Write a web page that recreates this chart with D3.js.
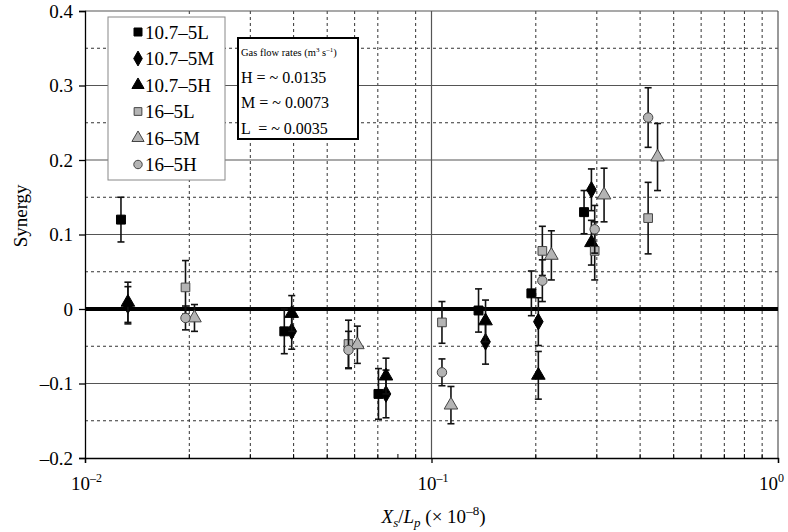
<!DOCTYPE html>
<html>
<head>
<meta charset="utf-8">
<script src="https://cdn.jsdelivr.net/npm/d3@7"></script>
<style>
  body { margin: 0; background: #fff; }
  svg text { font-family: "Liberation Serif", "Times New Roman", serif; }
</style>
</head>
<body>
<div id="chart"></div>
<script>
// series names (legend order)
const seriesNames = ["10.7–5L", "10.7–5M", "10.7–5H", "16–5L", "16–5M", "16–5H"];

// x values (Xs/Lp), y values (synergy), error half-widths
const x107L = [0.0127, 0.0376, 0.0703, 0.1367, 0.1942, 0.2756];
const y107L = [0.12, -0.03, -0.114, -0.002, 0.021, 0.13];
const e107L = [0.03, 0.03, 0.034, 0.029, 0.03, 0.029];

const x107M = [0.0133, 0.0395, 0.0739, 0.1432, 0.2034, 0.2894];
const y107M = [0.005, -0.03, -0.114, -0.044, -0.017, 0.16];
const e107M = [0.025, 0.024, 0.032, 0.03, 0.032, 0.028];

const x107H = [0.0133, 0.0395, 0.0739, 0.1432, 0.2034, 0.2894];
const y107H = [0.009, -0.006, -0.09, -0.016, -0.089, 0.089];
const e107H = [0.027, 0.024, 0.024, 0.028, 0.032, 0.03];

const x16L = [0.0195, 0.0576, 0.1072, 0.2089, 0.2958, 0.4219];
const y16L = [0.029, -0.047, -0.018, 0.078, 0.078, 0.122];
const e16L = [0.036, 0.032, 0.028, 0.033, 0.039, 0.048];

const x16M = [0.0207, 0.0611, 0.1138, 0.2218, 0.3148, 0.4491];
const y16M = [-0.012, -0.048, -0.129, 0.072, 0.153, 0.204];
const e16M = [0.018, 0.025, 0.025, 0.033, 0.036, 0.045];

const x16H = [0.0195, 0.0576, 0.1072, 0.2089, 0.2958, 0.4219];
const y16H = [-0.012, -0.055, -0.085, 0.038, 0.107, 0.257];
const e16H = [0.016, 0.025, 0.018, 0.028, 0.032, 0.04];

// tick labels
const yTicks = [-0.2, -0.1, 0, 0.1, 0.2, 0.3, 0.4];
const yTickLabels = ["–0.2", "–0.1", "0", "0.1", "0.2", "0.3", "0.4"];
const yMinor = [-0.15, -0.05, 0.05, 0.15, 0.25, 0.35];
const xMajor = [0.01, 0.1, 1];
const xMajorExp = ["–2", "–1", "0"];

// gas flow box text
const gasLines = ["H = ~ 0.0135", "M = ~ 0.0073", "L  = ~ 0.0035"];

//size
const width = 788;
const height = 532;
const margin = { top: 11, bottom: 74, left: 85, right: 10 };
const innerWidth = width - margin.left - margin.right;
const innerHeight = height - margin.top - margin.bottom;

const xs = [x107L, x107M, x107H, x16L, x16M, x16H];
const ysAll = [y107L, y107M, y107H, y16L, y16M, y16H];
const es = [e107L, e107M, e107H, e16L, e16M, e16H];
const shapes = [d3.symbolSquare, d3.symbolDiamond, d3.symbolTriangle, d3.symbolSquare, d3.symbolTriangle, d3.symbolCircle];
const sizes = [80, 80, 80, 75, 80, 70];
const fills = ["#000", "#000", "#000", "#b4b4b4", "#b4b4b4", "#b4b4b4"];
const strokes = ["#000", "#000", "#000", "#444", "#444", "#444"];

const series = seriesNames.map((name, i) => ({
  name,
  i,
  points: xs[i].map((x, j) => ({ x, y: ysAll[i][j], e: es[i][j] })),
}));

//scale
const xScale = d3.scaleLog().domain([0.01, 1]).range([0, innerWidth]);
const yScale = d3.scaleLinear().domain([-0.2, 0.4]).range([innerHeight, 0]);

const svg = d3
  .select("#chart")
  .append("svg")
  .attr("width", width)
  .attr("height", height);

const g = svg
  .append("g")
  .attr("transform", `translate(${margin.left},${margin.top})`);

// grid: vertical minor (dashed) -- the reference has no line at 0.08
const xMinor = [];
[0.01, 0.1].forEach((d) => {
  for (let k = 2; k <= 9; k++) xMinor.push(d * k);
});
g.append("g")
  .selectAll("line")
  .data(xMinor.filter((d) => Math.abs(d - 0.08) > 1e-9))
  .join("line")
  .attr("x1", (d) => xScale(d))
  .attr("x2", (d) => xScale(d))
  .attr("y1", 0)
  .attr("y2", innerHeight)
  .attr("stroke", "#333")
  .attr("stroke-width", 1)
  .attr("stroke-dasharray", "3,3");

// horizontal minor (dashed)
g.append("g")
  .selectAll("line")
  .data(yMinor)
  .join("line")
  .attr("x1", 0)
  .attr("x2", innerWidth)
  .attr("y1", (d) => yScale(d))
  .attr("y2", (d) => yScale(d))
  .attr("stroke", "#333")
  .attr("stroke-width", 1)
  .attr("stroke-dasharray", "3,3");

// horizontal major (solid)
g.append("g")
  .selectAll("line")
  .data(yTicks.filter((d) => d !== 0 && d !== -0.2))
  .join("line")
  .attr("x1", 0)
  .attr("x2", innerWidth)
  .attr("y1", (d) => yScale(d))
  .attr("y2", (d) => yScale(d))
  .attr("stroke", "#555")
  .attr("stroke-width", 1.2);

// vertical major (solid) at 0.1 and 1
g.append("g")
  .selectAll("line")
  .data([0.1, 1])
  .join("line")
  .attr("x1", (d) => xScale(d))
  .attr("x2", (d) => xScale(d))
  .attr("y1", 0)
  .attr("y2", innerHeight)
  .attr("stroke", "#555")
  .attr("stroke-width", 1.2);

// y axis
g.append("g")
  .call(
    d3.axisLeft(yScale)
      .tickValues(yTicks)
      .tickSize(6)
      .tickPadding(6)
      .tickFormat((d, i) => yTickLabels[i])
  )
  .call((a) => {
    a.attr("font-family", null).attr("font-size", null);
    a.select(".domain").attr("stroke", "#000").attr("stroke-width", 1.3);
    a.selectAll("line").attr("stroke", "#000").attr("stroke-width", 1.3);
    a.selectAll("text")
      .attr("font-size", 19)
      .attr("fill", "#000");
  });

// x axis
g.append("g")
  .attr("transform", `translate(0,${innerHeight})`)
  .call(d3.axisBottom(xScale).tickValues(xMajor).tickSize(5).tickFormat(""))
  .call((a) => {
    a.select(".domain").attr("stroke", "#000").attr("stroke-width", 1.3);
    a.selectAll("line").attr("stroke", "#000").attr("stroke-width", 1.3);
  });

// x minor ticks (inward)
g.append("g")
  .selectAll("line")
  .data(xMinor)
  .join("line")
  .attr("x1", (d) => xScale(d))
  .attr("x2", (d) => xScale(d))
  .attr("y1", innerHeight)
  .attr("y2", innerHeight - 4)
  .attr("stroke", "#000")
  .attr("stroke-width", 1);

// x tick labels 10^n
const xl = g.append("g")
  .selectAll("text")
  .data(xMajor)
  .join("text")
  .attr("x", (d, i) => xScale(d) - (i === 2 ? 19 : 14))
  .attr("y", innerHeight + 32)
  .attr("font-size", 19)
  .attr("fill", "#000");
xl.append("tspan").text("10");
xl.append("tspan")
  .attr("dy", -8)
  .attr("font-size", 12)
  .text((d, i) => xMajorExp[i]);

// zero line
g.append("line")
  .attr("x1", 0)
  .attr("x2", innerWidth)
  .attr("y1", yScale(0))
  .attr("y2", yScale(0))
  .attr("stroke", "#000")
  .attr("stroke-width", 4);

// error bars + markers
series.forEach((s) => {
  const sg = g.append("g");
  const eb = sg.selectAll("g.err")
    .data(s.points)
    .join("g")
    .attr("class", "err");
  eb.append("line")
    .attr("x1", (d) => xScale(d.x))
    .attr("x2", (d) => xScale(d.x))
    .attr("y1", (d) => yScale(d.y - d.e))
    .attr("y2", (d) => yScale(d.y + d.e))
    .attr("stroke", "#111")
    .attr("stroke-width", 1.6);
  [-1, 1].forEach((sgn) => {
    eb.append("line")
      .attr("x1", (d) => xScale(d.x) - 3.5)
      .attr("x2", (d) => xScale(d.x) + 3.5)
      .attr("y1", (d) => yScale(d.y + sgn * d.e))
      .attr("y2", (d) => yScale(d.y + sgn * d.e))
      .attr("stroke", "#111")
      .attr("stroke-width", 1.6);
  });
  sg.selectAll("path")
    .data(s.points)
    .join("path")
    .attr("transform", (d) => `translate(${xScale(d.x)},${yScale(d.y)})`)
    .attr("d", d3.symbol().type(shapes[s.i]).size(sizes[s.i]))
    .attr("fill", fills[s.i])
    .attr("stroke", strokes[s.i])
    .attr("stroke-width", 1);
});

// legend
const leg = svg.append("g").attr("transform", "translate(108,17)");
leg.append("rect")
  .attr("width", 117)
  .attr("height", 163)
  .attr("fill", "#fff")
  .attr("stroke", "#888")
  .attr("stroke-width", 1);
const li = leg.selectAll("g.item")
  .data(series)
  .join("g")
  .attr("class", "item")
  .attr("transform", (d, i) => `translate(0,${15 + i * 26.5})`);
li.append("path")
  .attr("transform", "translate(30,0)")
  .attr("d", (d) => d3.symbol().type(shapes[d.i]).size(sizes[d.i] * 0.8)())
  .attr("fill", (d) => fills[d.i])
  .attr("stroke", (d) => strokes[d.i])
  .attr("stroke-width", 1);
li.append("text")
  .attr("x", 37)
  .attr("y", 6.5)
  .attr("font-size", 19)
  .attr("fill", "#000")
  .text((d) => d.name);

// gas flow box
const gas = svg.append("g").attr("transform", "translate(238,38)");
gas.append("rect")
  .attr("width", 120)
  .attr("height", 101)
  .attr("fill", "#fff")
  .attr("stroke", "#000")
  .attr("stroke-width", 2);
const gt = gas.append("text")
  .attr("x", 3)
  .attr("y", 18)
  .attr("font-size", 10.5)
  .attr("fill", "#000");
gt.append("tspan").text("Gas flow rates (m");
gt.append("tspan").attr("dy", -4).attr("font-size", 7).text("3");
gt.append("tspan").attr("dy", 4).text(" s");
gt.append("tspan").attr("dy", -4).attr("font-size", 7).text("–1");
gt.append("tspan").attr("dy", 4).text(")");
gas.selectAll("text.v")
  .data(gasLines)
  .join("text")
  .attr("class", "v")
  .attr("x", 3)
  .attr("y", (d, i) => 44.5 + i * 25.5)
  .attr("font-size", 16)
  .attr("fill", "#000")
  .attr("xml:space", "preserve")
  .style("white-space", "pre")
  .text((d) => d);

// axis titles
svg.append("text")
  .attr("transform", `translate(27,${margin.top + yScale(0.125)}) rotate(-90)`)
  .attr("text-anchor", "middle")
  .attr("font-size", 19)
  .attr("fill", "#000")
  .text("Synergy");

const xt = svg.append("text")
  .attr("x", margin.left + xScale(0.1) + 2)
  .attr("y", 523)
  .attr("text-anchor", "middle")
  .attr("font-size", 19)
  .attr("fill", "#000");
xt.append("tspan").attr("font-style", "italic").text("X");
xt.append("tspan").attr("font-style", "italic").attr("font-size", 13).attr("dy", 4).text("s");
xt.append("tspan").attr("dy", -4).text("/");
xt.append("tspan").attr("font-style", "italic").text("L");
xt.append("tspan").attr("font-style", "italic").attr("font-size", 13).attr("dy", 4).text("p");
xt.append("tspan").attr("dy", -4).text(" (× 10");
xt.append("tspan").attr("font-size", 13).attr("dy", -8).text("–8");
xt.append("tspan").attr("dy", 8).text(")");
</script>
</body>
</html>
